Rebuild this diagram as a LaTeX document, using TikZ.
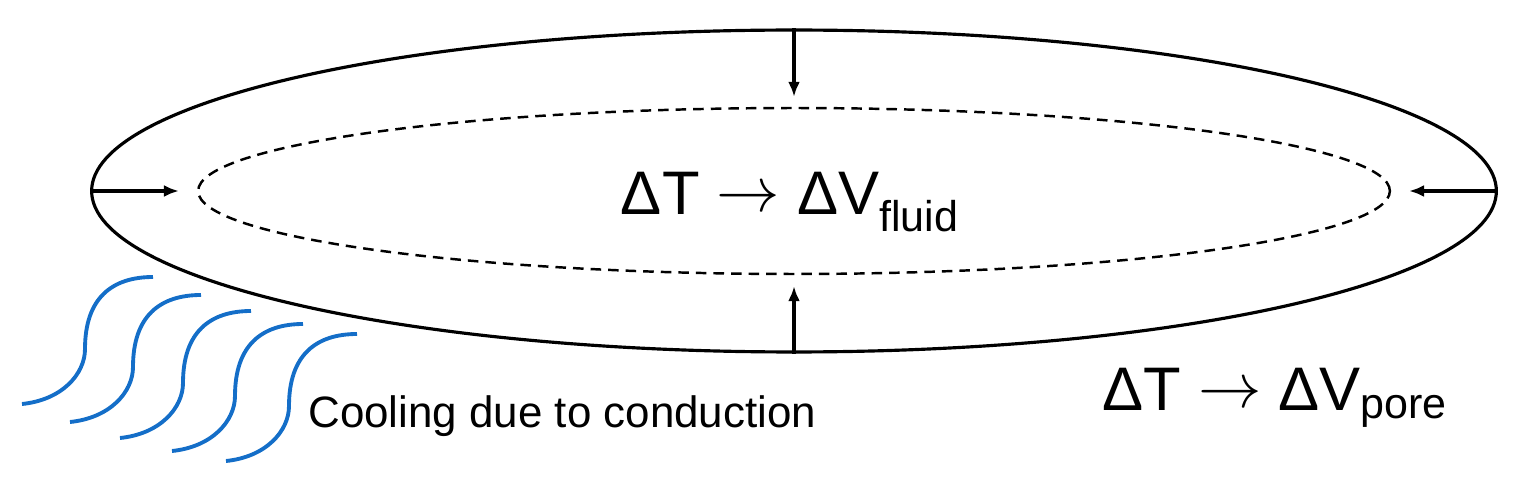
\documentclass[tikz,border=0pt]{standalone}
\usepackage{fontspec}
\setmainfont{Liberation Sans}
\usetikzlibrary{shapes.geometric,arrows.meta}
\definecolor{wave}{RGB}{20,110,200}
\newcommand{\bigto}{\raisebox{0.1ex}{\scalebox{1.45}{$\rightarrow$}}}
\begin{document}
\begin{tikzpicture}[
	x=0.02cm, y=-0.02cm,
	>={Latex[length=0.3cm,width=0.24cm]},
	pore/.style={
		ellipse, draw, line width=1.8pt,
		minimum width=28.1cm, minimum height=6.44cm,
		inner sep=0pt
	},
	fluid/.style={
		ellipse, draw, dash pattern=on 6pt off 4pt, line width=1.4pt,
		minimum width=23.84cm, minimum height=3.32cm,
		inner sep=0pt
	},
	push/.style={->, line width=1.8pt},
	label/.style={font=\fontsize{35}{40}\selectfont, inner sep=0pt},
	% cooling waves
	heat/.style={draw=wave, line width=2.2pt}
	]
	\useasboundingbox (0,0) rectangle (1521,486);
	\node[pore] (outer) at (794,191) {};
	\node[fluid] (inner) at (794,191) {};
	\node[label] (fluidtxt) at (790,202) {ΔT \bigto{} ΔV\textsubscript{fluid}};
	\node[label] (poretxt) at (1275,398) {ΔT \bigto{} ΔV\textsubscript{pore}};
	\node[font=\fontsize{25}{30}\selectfont, inner sep=0pt, anchor=west] (cool) at (308,416) {Cooling due to conduction};
	\draw[push, shorten >=0.2cm] (outer.north) -- (inner.north);
	\draw[push, shorten >=0.22cm] (outer.south) -- (inner.south);
	\draw[push, shorten >=0.36cm] (outer.west) -- (inner.west);
	\draw[push, shorten >=0.36cm] (outer.east) -- (inner.east);
	\foreach \i/\sx/\sy in {1/22/404, 2/70/422, 3/120/438, 4/172/451, 5/226/461} {
		\coordinate (w\i) at (\sx,\sy);
		\draw[heat] (w\i) .. controls +(40,-4) and +(0,25) .. ++(63,-55)
			.. controls +(0,-52) and +(-40,0) .. ++(68,-72);
	}
\end{tikzpicture}
\end{document}
